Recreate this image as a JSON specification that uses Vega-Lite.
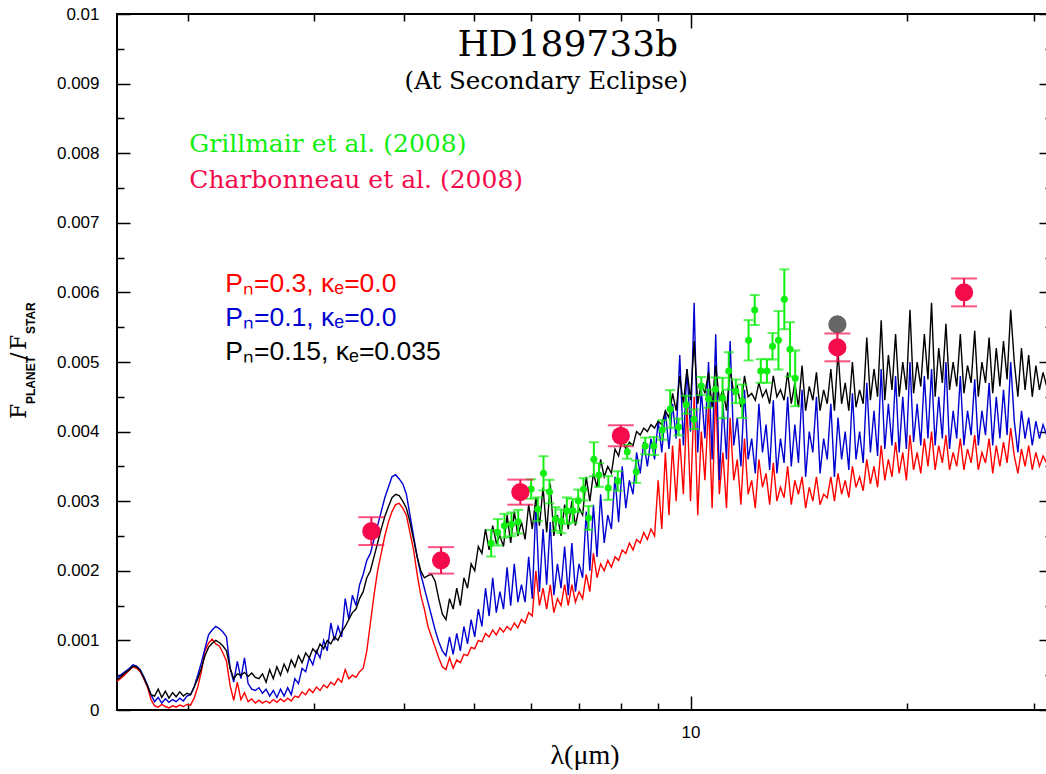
{
"$schema":"https://vega.github.io/schema/vega-lite/v6.json",
"width":935,"height":696,
"autosize":{"type":"none"},
"padding":{"left":117,"top":14,"right":-6,"bottom":64},
"background":"white",
"config":{"view":{"stroke":"black","strokeWidth":2},"axis":{"domain":false,"grid":false,"tickColor":"black","tickWidth":1.5,"labelColor":"black","labelFont":"Liberation Sans","labelFontSize":17,"labelOverlap":false,"labelFlush":false}},
"datasets":{
"model":[
{"lam":1.5849,"r":0.0004,"b":0.00046,"k":0.00042},
{"lam":1.6032,"r":0.00043,"b":0.00048,"k":0.00045},
{"lam":1.6218,"r":0.00047,"b":0.00052,"k":0.0005},
{"lam":1.6406,"r":0.00052,"b":0.00056,"k":0.00054},
{"lam":1.6596,"r":0.00057,"b":0.0006,"k":0.00058},
{"lam":1.6788,"r":0.00062,"b":0.00065,"k":0.00063},
{"lam":1.6982,"r":0.0006,"b":0.00063,"k":0.00062},
{"lam":1.7179,"r":0.00055,"b":0.00058,"k":0.00057},
{"lam":1.7378,"r":0.00045,"b":0.00048,"k":0.00046},
{"lam":1.7579,"r":0.00033,"b":0.00036,"k":0.00035},
{"lam":1.7783,"r":0.00015,"b":0.00022,"k":0.00022},
{"lam":1.7989,"r":0.00006,"b":0.00012,"k":0.0002},
{"lam":1.8197,"r":0.00004,"b":0.00018,"k":0.0003},
{"lam":1.8408,"r":0.00008,"b":0.0001,"k":0.00018},
{"lam":1.8621,"r":0.00005,"b":0.00016,"k":0.00027},
{"lam":1.8836,"r":0.00003,"b":0.00011,"k":0.00017},
{"lam":1.9055,"r":0.00006,"b":0.00015,"k":0.00025},
{"lam":1.9275,"r":0.00004,"b":0.00012,"k":0.00019},
{"lam":1.9498,"r":0.00007,"b":0.00017,"k":0.00026},
{"lam":1.9724,"r":0.00005,"b":0.00013,"k":0.0002},
{"lam":1.9953,"r":0.00008,"b":0.0002,"k":0.00024},
{"lam":2.0184,"r":0.00007,"b":0.00022,"k":0.00022},
{"lam":2.0417,"r":0.00017,"b":0.00033,"k":0.00033},
{"lam":2.0654,"r":0.00033,"b":0.0005,"k":0.00045},
{"lam":2.0893,"r":0.00055,"b":0.00068,"k":0.0006},
{"lam":2.1135,"r":0.00085,"b":0.00088,"k":0.00078},
{"lam":2.138,"r":0.00096,"b":0.00108,"k":0.0009},
{"lam":2.1627,"r":0.00102,"b":0.00115,"k":0.00096},
{"lam":2.1878,"r":0.00095,"b":0.0012,"k":0.001},
{"lam":2.2131,"r":0.00092,"b":0.00117,"k":0.00097},
{"lam":2.2387,"r":0.00082,"b":0.00112,"k":0.00092},
{"lam":2.2646,"r":0.0007,"b":0.00105,"k":0.00085},
{"lam":2.2909,"r":0.00035,"b":0.0006,"k":0.0006},
{"lam":2.3174,"r":0.00014,"b":0.0004,"k":0.00045},
{"lam":2.3442,"r":0.0004,"b":0.0007,"k":0.00052},
{"lam":2.3714,"r":0.00015,"b":0.00045,"k":0.0005},
{"lam":2.3988,"r":0.00025,"b":0.00075,"k":0.00054},
{"lam":2.4266,"r":0.00012,"b":0.00038,"k":0.00048},
{"lam":2.4547,"r":0.00016,"b":0.0003,"k":0.00053},
{"lam":2.4831,"r":0.0001,"b":0.00028,"k":0.00047},
{"lam":2.5119,"r":0.00014,"b":0.00032,"k":0.00045},
{"lam":2.541,"r":0.0001,"b":0.00024,"k":0.00052},
{"lam":2.5704,"r":0.00013,"b":0.0003,"k":0.0004},
{"lam":2.6002,"r":0.0001,"b":0.0002,"k":0.00058},
{"lam":2.6303,"r":0.00015,"b":0.00028,"k":0.00045},
{"lam":2.6607,"r":0.00011,"b":0.00018,"k":0.00062},
{"lam":2.6915,"r":0.00016,"b":0.0003,"k":0.0005},
{"lam":2.7227,"r":0.00012,"b":0.0002,"k":0.00066},
{"lam":2.7542,"r":0.00017,"b":0.00032,"k":0.00055},
{"lam":2.7861,"r":0.00013,"b":0.00022,"k":0.00072},
{"lam":2.8184,"r":0.0002,"b":0.00045,"k":0.00062},
{"lam":2.851,"r":0.00018,"b":0.00038,"k":0.00078},
{"lam":2.884,"r":0.00026,"b":0.0006,"k":0.00068},
{"lam":2.9174,"r":0.00022,"b":0.00055,"k":0.00082},
{"lam":2.9512,"r":0.0003,"b":0.00075,"k":0.00075},
{"lam":2.9854,"r":0.00025,"b":0.00065,"k":0.00088},
{"lam":3.02,"r":0.00033,"b":0.00085,"k":0.00082},
{"lam":3.0549,"r":0.00028,"b":0.00075,"k":0.00095},
{"lam":3.0903,"r":0.00036,"b":0.001,"k":0.00088},
{"lam":3.1261,"r":0.00032,"b":0.00085,"k":0.001},
{"lam":3.1623,"r":0.0004,"b":0.00125,"k":0.00095},
{"lam":3.1989,"r":0.00036,"b":0.001,"k":0.00105},
{"lam":3.2359,"r":0.00045,"b":0.0012,"k":0.001},
{"lam":3.2734,"r":0.0004,"b":0.00105,"k":0.00112},
{"lam":3.3113,"r":0.00058,"b":0.0016,"k":0.0012},
{"lam":3.3497,"r":0.00045,"b":0.0013,"k":0.0013},
{"lam":3.3884,"r":0.0005,"b":0.00165,"k":0.0014},
{"lam":3.4277,"r":0.00047,"b":0.0015,"k":0.00145},
{"lam":3.4674,"r":0.00055,"b":0.0018,"k":0.0016},
{"lam":3.5075,"r":0.0006,"b":0.00195,"k":0.0017},
{"lam":3.5481,"r":0.00085,"b":0.00215,"k":0.0019},
{"lam":3.5892,"r":0.00125,"b":0.00225,"k":0.002},
{"lam":3.6308,"r":0.00165,"b":0.00245,"k":0.0022},
{"lam":3.6728,"r":0.002,"b":0.00265,"k":0.0024},
{"lam":3.7154,"r":0.00225,"b":0.00285,"k":0.0026},
{"lam":3.7584,"r":0.0025,"b":0.00305,"k":0.00278},
{"lam":3.8019,"r":0.0027,"b":0.0032,"k":0.00292},
{"lam":3.8459,"r":0.00285,"b":0.00335,"k":0.00305},
{"lam":3.8905,"r":0.00295,"b":0.00338,"k":0.0031},
{"lam":3.9355,"r":0.00297,"b":0.00332,"k":0.00308},
{"lam":3.9811,"r":0.0029,"b":0.00325,"k":0.003},
{"lam":4.0272,"r":0.0028,"b":0.0031,"k":0.0029},
{"lam":4.0738,"r":0.00255,"b":0.0028,"k":0.0027},
{"lam":4.121,"r":0.0023,"b":0.0025,"k":0.00245},
{"lam":4.1687,"r":0.00195,"b":0.0022,"k":0.0022},
{"lam":4.217,"r":0.00165,"b":0.00195,"k":0.002},
{"lam":4.2658,"r":0.00145,"b":0.00175,"k":0.0019},
{"lam":4.3152,"r":0.0012,"b":0.00155,"k":0.00193},
{"lam":4.3652,"r":0.00105,"b":0.00135,"k":0.00195},
{"lam":4.4157,"r":0.0009,"b":0.00115,"k":0.00185},
{"lam":4.4668,"r":0.00075,"b":0.00098,"k":0.0016},
{"lam":4.5186,"r":0.00062,"b":0.00085,"k":0.00138},
{"lam":4.5709,"r":0.00058,"b":0.00078,"k":0.0013},
{"lam":4.6238,"r":0.00075,"b":0.00105,"k":0.0016},
{"lam":4.6774,"r":0.0006,"b":0.0008,"k":0.00145},
{"lam":4.7315,"r":0.00072,"b":0.0011,"k":0.00175},
{"lam":4.7863,"r":0.00068,"b":0.00085,"k":0.0015},
{"lam":4.8417,"r":0.0008,"b":0.0012,"k":0.0019},
{"lam":4.8978,"r":0.00078,"b":0.00095,"k":0.00175},
{"lam":4.9545,"r":0.0009,"b":0.0013,"k":0.0021},
{"lam":5.0119,"r":0.00088,"b":0.00105,"k":0.002},
{"lam":5.0699,"r":0.001,"b":0.00145,"k":0.00235},
{"lam":5.1286,"r":0.00098,"b":0.0012,"k":0.00225},
{"lam":5.188,"r":0.0011,"b":0.00175,"k":0.0026},
{"lam":5.2481,"r":0.00105,"b":0.00135,"k":0.0023},
{"lam":5.3088,"r":0.00115,"b":0.0019,"k":0.00265},
{"lam":5.3703,"r":0.00108,"b":0.0014,"k":0.0024},
{"lam":5.4325,"r":0.00118,"b":0.0017,"k":0.0025},
{"lam":5.4954,"r":0.00112,"b":0.00145,"k":0.00235},
{"lam":5.559,"r":0.0012,"b":0.00205,"k":0.0028},
{"lam":5.6234,"r":0.00115,"b":0.0015,"k":0.0024},
{"lam":5.6885,"r":0.00125,"b":0.0021,"k":0.00285},
{"lam":5.7544,"r":0.00118,"b":0.00155,"k":0.0025},
{"lam":5.821,"r":0.0013,"b":0.0018,"k":0.0027},
{"lam":5.8884,"r":0.00125,"b":0.00155,"k":0.00245},
{"lam":5.9566,"r":0.0014,"b":0.0022,"k":0.00295},
{"lam":6.0256,"r":0.00135,"b":0.0016,"k":0.0026},
{"lam":6.0954,"r":0.002,"b":0.00295,"k":0.00305},
{"lam":6.166,"r":0.0015,"b":0.0017,"k":0.00265},
{"lam":6.2373,"r":0.00175,"b":0.0026,"k":0.0032},
{"lam":6.3096,"r":0.00145,"b":0.0018,"k":0.00255},
{"lam":6.3826,"r":0.0018,"b":0.0027,"k":0.00325},
{"lam":6.4565,"r":0.0014,"b":0.00165,"k":0.0025},
{"lam":6.5313,"r":0.0016,"b":0.0021,"k":0.0028},
{"lam":6.6069,"r":0.0015,"b":0.00175,"k":0.0025},
{"lam":6.6834,"r":0.0018,"b":0.00235,"k":0.00295},
{"lam":6.7608,"r":0.0015,"b":0.00165,"k":0.0026},
{"lam":6.8391,"r":0.0018,"b":0.0024,"k":0.003},
{"lam":6.9183,"r":0.00155,"b":0.0017,"k":0.00265},
{"lam":6.9984,"r":0.0017,"b":0.0021,"k":0.0029},
{"lam":7.0795,"r":0.0016,"b":0.0019,"k":0.0028},
{"lam":7.1614,"r":0.00195,"b":0.00285,"k":0.00335},
{"lam":7.2444,"r":0.0017,"b":0.002,"k":0.003},
{"lam":7.3282,"r":0.00225,"b":0.00295,"k":0.0034},
{"lam":7.4131,"r":0.0019,"b":0.0022,"k":0.0032},
{"lam":7.4989,"r":0.0021,"b":0.0031,"k":0.0036},
{"lam":7.5858,"r":0.002,"b":0.0024,"k":0.00335},
{"lam":7.6736,"r":0.00215,"b":0.0028,"k":0.0035},
{"lam":7.7625,"r":0.00205,"b":0.0026,"k":0.0034},
{"lam":7.8524,"r":0.0022,"b":0.00335,"k":0.00375},
{"lam":7.9433,"r":0.00215,"b":0.0027,"k":0.00365},
{"lam":8.0353,"r":0.0023,"b":0.0035,"k":0.0039},
{"lam":8.1283,"r":0.00225,"b":0.0029,"k":0.00375},
{"lam":8.2224,"r":0.0024,"b":0.0033,"k":0.00385},
{"lam":8.3176,"r":0.0023,"b":0.0031,"k":0.0038},
{"lam":8.414,"r":0.00245,"b":0.0037,"k":0.004},
{"lam":8.5114,"r":0.0024,"b":0.0034,"k":0.00395},
{"lam":8.6099,"r":0.00255,"b":0.00385,"k":0.00405},
{"lam":8.7096,"r":0.00245,"b":0.0035,"k":0.004},
{"lam":8.8105,"r":0.0026,"b":0.0039,"k":0.0041},
{"lam":8.9125,"r":0.0025,"b":0.0036,"k":0.00405},
{"lam":9.0157,"r":0.0033,"b":0.00415,"k":0.00415},
{"lam":9.1201,"r":0.0026,"b":0.0037,"k":0.0041},
{"lam":9.2257,"r":0.0037,"b":0.0043,"k":0.0043},
{"lam":9.3325,"r":0.0028,"b":0.00375,"k":0.0042},
{"lam":9.4406,"r":0.0038,"b":0.0044,"k":0.00455},
{"lam":9.5499,"r":0.003,"b":0.0039,"k":0.0043},
{"lam":9.6605,"r":0.0039,"b":0.0051,"k":0.0048},
{"lam":9.7724,"r":0.0031,"b":0.0038,"k":0.0044},
{"lam":9.8855,"r":0.0044,"b":0.0049,"k":0.0049},
{"lam":10.0,"r":0.003,"b":0.004,"k":0.00445},
{"lam":10.116,"r":0.0045,"b":0.00585,"k":0.0053},
{"lam":10.233,"r":0.0028,"b":0.0037,"k":0.0044},
{"lam":10.351,"r":0.004,"b":0.0046,"k":0.0047},
{"lam":10.471,"r":0.0033,"b":0.0039,"k":0.00455},
{"lam":10.593,"r":0.0044,"b":0.005,"k":0.00485},
{"lam":10.715,"r":0.0029,"b":0.0036,"k":0.00435},
{"lam":10.839,"r":0.0046,"b":0.0054,"k":0.00495},
{"lam":10.965,"r":0.0031,"b":0.0033,"k":0.00445},
{"lam":11.092,"r":0.0037,"b":0.0044,"k":0.0046},
{"lam":11.22,"r":0.0029,"b":0.0036,"k":0.0043},
{"lam":11.35,"r":0.0042,"b":0.0053,"k":0.0049},
{"lam":11.482,"r":0.0033,"b":0.0038,"k":0.00455},
{"lam":11.614,"r":0.0036,"b":0.0042,"k":0.00465},
{"lam":11.749,"r":0.00295,"b":0.0035,"k":0.00435},
{"lam":11.885,"r":0.0039,"b":0.0046,"k":0.0048},
{"lam":12.023,"r":0.0031,"b":0.0036,"k":0.0045},
{"lam":12.162,"r":0.0033,"b":0.0039,"k":0.00455},
{"lam":12.303,"r":0.0029,"b":0.0034,"k":0.00445},
{"lam":12.445,"r":0.0036,"b":0.0044,"k":0.0047},
{"lam":12.589,"r":0.0032,"b":0.0037,"k":0.0045},
{"lam":12.735,"r":0.0034,"b":0.0041,"k":0.0046},
{"lam":12.882,"r":0.00295,"b":0.00345,"k":0.0044},
{"lam":13.032,"r":0.00355,"b":0.00445,"k":0.0048},
{"lam":13.183,"r":0.003,"b":0.0034,"k":0.0045},
{"lam":13.335,"r":0.0032,"b":0.0039,"k":0.0046},
{"lam":13.49,"r":0.00305,"b":0.00355,"k":0.00445},
{"lam":13.646,"r":0.0035,"b":0.0045,"k":0.00485},
{"lam":13.804,"r":0.00295,"b":0.0035,"k":0.0044},
{"lam":13.964,"r":0.0033,"b":0.0041,"k":0.0047},
{"lam":14.125,"r":0.0031,"b":0.00355,"k":0.00435},
{"lam":14.289,"r":0.00335,"b":0.0046,"k":0.00495},
{"lam":14.454,"r":0.0029,"b":0.00335,"k":0.0043},
{"lam":14.622,"r":0.0032,"b":0.004,"k":0.00465},
{"lam":14.791,"r":0.003,"b":0.0037,"k":0.00445},
{"lam":14.962,"r":0.00335,"b":0.0045,"k":0.00485},
{"lam":15.136,"r":0.00295,"b":0.0034,"k":0.0043},
{"lam":15.311,"r":0.0031,"b":0.0039,"k":0.0046},
{"lam":15.488,"r":0.00305,"b":0.0036,"k":0.0044},
{"lam":15.668,"r":0.00335,"b":0.0044,"k":0.0049},
{"lam":15.849,"r":0.003,"b":0.00335,"k":0.0043},
{"lam":16.032,"r":0.0034,"b":0.0042,"k":0.00515},
{"lam":16.218,"r":0.0031,"b":0.0036,"k":0.0044},
{"lam":16.406,"r":0.0033,"b":0.004,"k":0.0047},
{"lam":16.596,"r":0.00305,"b":0.00345,"k":0.0043},
{"lam":16.788,"r":0.0035,"b":0.00455,"k":0.005},
{"lam":16.982,"r":0.0032,"b":0.0036,"k":0.00435},
{"lam":17.179,"r":0.00335,"b":0.004,"k":0.0046},
{"lam":17.378,"r":0.00315,"b":0.00355,"k":0.0044},
{"lam":17.579,"r":0.0036,"b":0.0047,"k":0.00535},
{"lam":17.783,"r":0.00325,"b":0.0037,"k":0.00445},
{"lam":17.989,"r":0.0035,"b":0.0043,"k":0.0049},
{"lam":18.197,"r":0.0032,"b":0.00365,"k":0.0045},
{"lam":18.408,"r":0.0038,"b":0.0049,"k":0.0056},
{"lam":18.621,"r":0.0033,"b":0.00375,"k":0.00445},
{"lam":18.836,"r":0.0036,"b":0.0044,"k":0.0051},
{"lam":19.055,"r":0.00335,"b":0.0038,"k":0.0046},
{"lam":19.275,"r":0.00385,"b":0.0048,"k":0.0054},
{"lam":19.498,"r":0.0034,"b":0.0037,"k":0.0045},
{"lam":19.724,"r":0.0037,"b":0.0045,"k":0.005},
{"lam":19.953,"r":0.0033,"b":0.00375,"k":0.0046},
{"lam":20.184,"r":0.00395,"b":0.005,"k":0.00575},
{"lam":20.417,"r":0.00345,"b":0.00385,"k":0.00455},
{"lam":20.654,"r":0.0037,"b":0.0044,"k":0.005},
{"lam":20.893,"r":0.0034,"b":0.0038,"k":0.00465},
{"lam":21.135,"r":0.0039,"b":0.0048,"k":0.0054},
{"lam":21.38,"r":0.0035,"b":0.0039,"k":0.00475},
{"lam":21.627,"r":0.004,"b":0.0049,"k":0.00585},
{"lam":21.878,"r":0.00345,"b":0.0038,"k":0.0045},
{"lam":22.131,"r":0.0038,"b":0.0045,"k":0.0052},
{"lam":22.387,"r":0.00355,"b":0.0039,"k":0.0047},
{"lam":22.646,"r":0.00395,"b":0.005,"k":0.00555},
{"lam":22.909,"r":0.00345,"b":0.00375,"k":0.0046},
{"lam":23.174,"r":0.0037,"b":0.0043,"k":0.005},
{"lam":23.442,"r":0.0035,"b":0.0039,"k":0.00465},
{"lam":23.714,"r":0.0039,"b":0.0048,"k":0.0054},
{"lam":23.988,"r":0.00345,"b":0.0038,"k":0.00455},
{"lam":24.266,"r":0.00375,"b":0.0043,"k":0.00495},
{"lam":24.547,"r":0.00355,"b":0.00395,"k":0.0047},
{"lam":24.831,"r":0.00395,"b":0.00475,"k":0.00545},
{"lam":25.119,"r":0.00345,"b":0.0038,"k":0.0045},
{"lam":25.41,"r":0.0037,"b":0.0043,"k":0.005},
{"lam":25.704,"r":0.00355,"b":0.00395,"k":0.0047},
{"lam":26.002,"r":0.0039,"b":0.0047,"k":0.00535},
{"lam":26.303,"r":0.0034,"b":0.0038,"k":0.00455},
{"lam":26.607,"r":0.0038,"b":0.0045,"k":0.0052},
{"lam":26.915,"r":0.0035,"b":0.0039,"k":0.00465},
{"lam":27.227,"r":0.00385,"b":0.0046,"k":0.0053},
{"lam":27.542,"r":0.00355,"b":0.00395,"k":0.00475},
{"lam":27.861,"r":0.00405,"b":0.005,"k":0.00575},
{"lam":28.184,"r":0.00365,"b":0.00415,"k":0.005},
{"lam":28.51,"r":0.0034,"b":0.0037,"k":0.0045},
{"lam":28.84,"r":0.00375,"b":0.0043,"k":0.0052},
{"lam":29.174,"r":0.0035,"b":0.0039,"k":0.0046},
{"lam":29.512,"r":0.0038,"b":0.0042,"k":0.0051},
{"lam":29.854,"r":0.00345,"b":0.0038,"k":0.0045},
{"lam":30.2,"r":0.0037,"b":0.00415,"k":0.00495},
{"lam":30.549,"r":0.0035,"b":0.0039,"k":0.0046},
{"lam":30.903,"r":0.00365,"b":0.0041,"k":0.00485},
{"lam":31.261,"r":0.00355,"b":0.00395,"k":0.00465},
{"lam":31.623,"r":0.0036,"b":0.004,"k":0.0047},
{"lam":31.989,"r":0.0035,"b":0.0039,"k":0.0046}
],
"grill":[
{"lam":5.283,"v":0.002395,"e":0.00019},
{"lam":5.395,"v":0.002553,"e":0.00019},
{"lam":5.512,"v":0.002648,"e":0.00017},
{"lam":5.637,"v":0.002668,"e":0.00017},
{"lam":5.76,"v":0.002705,"e":0.00017},
{"lam":6.004,"v":0.003175,"e":0.00014},
{"lam":6.133,"v":0.002884,"e":0.00017},
{"lam":6.246,"v":0.003401,"e":0.000245},
{"lam":6.367,"v":0.003137,"e":0.00017},
{"lam":6.49,"v":0.002744,"e":0.00017},
{"lam":6.612,"v":0.002711,"e":0.00017},
{"lam":6.73,"v":0.002864,"e":0.00019},
{"lam":6.86,"v":0.002864,"e":0.00017},
{"lam":6.98,"v":0.003007,"e":0.00016},
{"lam":7.1,"v":0.003171,"e":0.00016},
{"lam":7.215,"v":0.002759,"e":0.00017},
{"lam":7.339,"v":0.003602,"e":0.000245},
{"lam":7.459,"v":0.003376,"e":0.00017},
{"lam":7.686,"v":0.00319,"e":0.00017},
{"lam":7.921,"v":0.00329,"e":0.00014},
{"lam":8.166,"v":0.003711,"e":0.0001},
{"lam":8.404,"v":0.003424,"e":0.00016},
{"lam":8.65,"v":0.003793,"e":0.00012},
{"lam":8.892,"v":0.003793,"e":0.00013},
{"lam":9.135,"v":0.004023,"e":0.00014},
{"lam":9.37,"v":0.004325,"e":0.00027},
{"lam":9.623,"v":0.004066,"e":0.00012},
{"lam":9.863,"v":0.004386,"e":0.00013},
{"lam":10.11,"v":0.004177,"e":0.00014},
{"lam":10.35,"v":0.004655,"e":0.00013},
{"lam":10.59,"v":0.004473,"e":0.00013},
{"lam":10.83,"v":0.004608,"e":0.00017},
{"lam":11.08,"v":0.004483,"e":0.00029},
{"lam":11.3,"v":0.004871,"e":0.00027},
{"lam":11.56,"v":0.004579,"e":0.00017},
{"lam":11.8,"v":0.004435,"e":0.00024},
{"lam":12.04,"v":0.005312,"e":0.00029},
{"lam":12.28,"v":0.005747,"e":0.000215},
{"lam":12.52,"v":0.004871,"e":0.00017},
{"lam":12.77,"v":0.004871,"e":0.00017},
{"lam":13.0,"v":0.005226,"e":0.00019},
{"lam":13.25,"v":0.005312,"e":0.00042},
{"lam":13.5,"v":0.005901,"e":0.00043},
{"lam":13.75,"v":0.005182,"e":0.00039},
{"lam":13.98,"v":0.004766,"e":0.0004}
],
"charb":[
{"lam":3.6,"v":0.00257,"e":0.0002},
{"lam":4.5,"v":0.00215,"e":0.00019},
{"lam":5.8,"v":0.00313,"e":0.00018},
{"lam":8.0,"v":0.00394,"e":0.00015},
{"lam":16.0,"v":0.00521,"e":0.0002},
{"lam":24.0,"v":0.006,"e":0.0002}
]
},
"layer":[
{"data":{"name":"model"},"mark":{"type":"line","color":"#ff0000","strokeWidth":1.4,"clip":true},
 "encoding":{
  "x":{"field":"lam","type":"quantitative","scale":{"type":"log","domain":[1.595,31.8],"nice":false},
   "axis":{"orient":"bottom","values":[2,3,4,5,6,7,8,9,10,20,30],"labelExpr":"datum.value == 10 ? '10' : ''","tickSize":{"condition":{"test":"datum.value == 10","value":-14},"value":-7},"labelPadding":28,"title":"λ(μm)","titleFont":"Liberation Serif","titleFontSize":28,"titleFontWeight":"normal","titlePadding":-6}},
  "y":{"field":"r","type":"quantitative","scale":{"domain":[0,0.01],"nice":false,"zero":false},
   "axis":{"orient":"left","values":[0,0.0005,0.001,0.0015,0.002,0.0025,0.003,0.0035,0.004,0.0045,0.005,0.0055,0.006,0.0065,0.007,0.0075,0.008,0.0085,0.009,0.0095,0.01],"labelExpr":"round(datum.value*10000) % 10 == 0 ? format(datum.value,'~g') : ''","tickSize":{"condition":{"test":"round(datum.value*10000) % 10 == 0","value":-13},"value":-7},"labelPadding":31,"title":null}}}},
{"data":{"name":"model"},"mark":{"type":"line","color":"#0000d0","strokeWidth":1.4,"clip":true},
 "encoding":{
  "x":{"field":"lam","type":"quantitative","scale":{"type":"log","domain":[1.595,31.8],"nice":false},
   "axis":{"orient":"top","values":[2,3,4,5,6,7,8,9,10,20,30],"labels":false,"tickSize":{"condition":{"test":"datum.value == 10","value":-14},"value":-7},"title":null}},
  "y":{"field":"b","type":"quantitative","scale":{"domain":[0,0.01],"nice":false,"zero":false},
   "axis":{"orient":"right","values":[0,0.0005,0.001,0.0015,0.002,0.0025,0.003,0.0035,0.004,0.0045,0.005,0.0055,0.006,0.0065,0.007,0.0075,0.008,0.0085,0.009,0.0095,0.01],"labels":false,"tickSize":{"condition":{"test":"round(datum.value*10000) % 10 == 0","value":-13},"value":-7},"title":null}}}},
{"data":{"name":"model"},"mark":{"type":"line","color":"#000000","strokeWidth":1.4,"clip":true},
 "encoding":{
  "x":{"field":"lam","type":"quantitative","axis":null},
  "y":{"field":"k","type":"quantitative","axis":null}}},
{"data":{"name":"grill"},"mark":{"type":"errorbar","color":"#11ee11","thickness":2,"ticks":{"size":10,"color":"#11ee11","thickness":2}},
 "encoding":{
  "x":{"field":"lam","type":"quantitative","axis":null},
  "y":{"field":"v","type":"quantitative","axis":null},
  "yError":{"field":"e"}}},
{"data":{"name":"grill"},"mark":{"type":"point","filled":true,"color":"#11ee11","size":50,"opacity":1},
 "encoding":{
  "x":{"field":"lam","type":"quantitative","axis":null},
  "y":{"field":"v","type":"quantitative","axis":null}}},
{"data":{"values":[{"lam":16.0,"v":0.00554}]},"mark":{"type":"point","filled":true,"color":"#666666","size":330,"opacity":1},
 "encoding":{
  "x":{"field":"lam","type":"quantitative","axis":null},
  "y":{"field":"v","type":"quantitative","axis":null}}},
{"data":{"name":"charb"},"mark":{"type":"errorbar","color":"#f50a4b","thickness":2,"ticks":{"size":26,"color":"#f50a4b","thickness":2}},
 "encoding":{
  "x":{"field":"lam","type":"quantitative","axis":null},
  "y":{"field":"v","type":"quantitative","axis":null},
  "yError":{"field":"e"}}},
{"data":{"name":"charb"},"mark":{"type":"point","filled":true,"color":"#f50a4b","size":330,"opacity":1},
 "encoding":{
  "x":{"field":"lam","type":"quantitative","axis":null},
  "y":{"field":"v","type":"quantitative","axis":null}}},
{"data":{"values":[{"lam":6.75,"v":0.00939,"t":"HD189733b"}]},"mark":{"type":"text","font":"DejaVu Serif","fontSize":36,"align":"center","baseline":"alphabetic","color":"black"},
 "encoding":{"x":{"field":"lam","type":"quantitative","axis":null},"y":{"field":"v","type":"quantitative","axis":null},"text":{"field":"t"}}},
{"data":{"values":[{"lam":6.3,"v":0.00892,"t":"(At Secondary Eclipse)"}]},"mark":{"type":"text","font":"DejaVu Serif","fontSize":24.5,"align":"center","baseline":"alphabetic","color":"black"},
 "encoding":{"x":{"field":"lam","type":"quantitative","axis":null},"y":{"field":"v","type":"quantitative","axis":null},"text":{"field":"t"}}},
{"data":{"values":[{"lam":2.01,"v":0.00802,"t":"Grillmair et al. (2008)"}]},"mark":{"type":"text","font":"DejaVu Serif","fontSize":25,"align":"left","baseline":"alphabetic","color":"#11ee11"},
 "encoding":{"x":{"field":"lam","type":"quantitative","axis":null},"y":{"field":"v","type":"quantitative","axis":null},"text":{"field":"t"}}},
{"data":{"values":[{"lam":2.01,"v":0.0075,"t":"Charbonneau et al. (2008)"}]},"mark":{"type":"text","font":"DejaVu Serif","fontSize":25,"align":"left","baseline":"alphabetic","color":"#f50a4b"},
 "encoding":{"x":{"field":"lam","type":"quantitative","axis":null},"y":{"field":"v","type":"quantitative","axis":null},"text":{"field":"t"}}},
{"data":{"values":[{"lam":2.256,"v":0.006006,"m":"r","t":"Pₙ=0.3,  κₑ=0.0"},{"lam":2.256,"v":0.005517,"m":"b","t":"Pₙ=0.1,  κₑ=0.0"},{"lam":2.256,"v":0.005029,"m":"k","t":"Pₙ=0.15,  κₑ=0.035"}]},
 "mark":{"type":"text","font":"Liberation Sans","fontSize":26.5,"align":"left","baseline":"alphabetic"},
 "encoding":{"x":{"field":"lam","type":"quantitative","axis":null},"y":{"field":"v","type":"quantitative","axis":null},"text":{"field":"t"},
  "color":{"field":"m","type":"nominal","scale":{"domain":["r","b","k"],"range":["#ff0000","#0000d0","#000000"]},"legend":null}}},
{"data":{"values":[{"lam":1.193,"v":0.004181,"t":"F"},{"lam":1.193,"v":0.005029,"t":"/"},{"lam":1.193,"v":0.005172,"t":"F"}]},
 "mark":{"type":"text","font":"DejaVu Serif","fontSize":22,"align":"left","baseline":"alphabetic","angle":270,"color":"black"},
 "encoding":{"x":{"field":"lam","type":"quantitative","axis":null},"y":{"field":"v","type":"quantitative","axis":null},"text":{"field":"t"}}},
{"data":{"values":[{"lam":1.227,"v":0.004397,"t":"PLANET"},{"lam":1.227,"v":0.005402,"t":"STAR"}]},
 "mark":{"type":"text","font":"Liberation Sans","fontSize":12,"fontWeight":"bold","align":"left","baseline":"alphabetic","angle":270,"color":"black"},
 "encoding":{"x":{"field":"lam","type":"quantitative","axis":null},"y":{"field":"v","type":"quantitative","axis":null},"text":{"field":"t"}}}
],
"resolve":{"axis":{"x":"independent","y":"independent"}}
}
